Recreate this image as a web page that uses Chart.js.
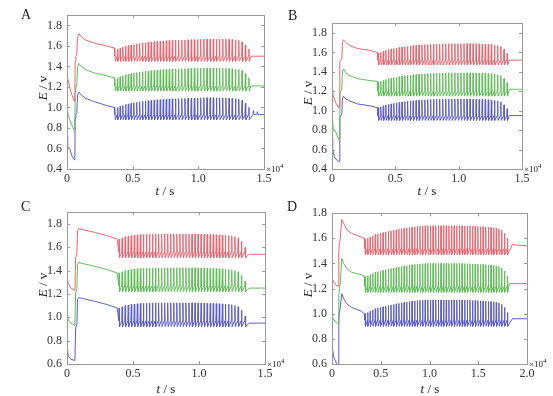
<!DOCTYPE html>
<html>
<head>
<meta charset="utf-8">
<script src="https://cdn.jsdelivr.net/npm/chart.js@4.4.1/dist/chart.umd.min.js"></script>
<style>
  body { margin: 0; background: #fff; width: 553px; height: 396px; position: relative; overflow: hidden;
         font-family: "Liberation Serif", "DejaVu Serif", serif; color: #222; }
  canvas { position: absolute; }
  .txt { position: absolute; white-space: nowrap; line-height: 1; }
  .letter { font-size: 14px; }
  .ttl { font-size: 13px; }
  .ytl { transform: translate(-50%, -50%) rotate(-90deg); }
  .xtl { transform: translate(-50%, -50%); }
  .mul { font-size: 9px; }
  .mul sup { font-size: 7px; vertical-align: 4px; }
</style>
</head>
<body>
<canvas id="cA"></canvas>
<canvas id="cB"></canvas>
<canvas id="cC"></canvas>
<canvas id="cD"></canvas>
<script>
// --- data (t in units of 1e4 s, E in V) ---

// Panel A
const A_RED_HEAD = [[0,1.31],[0.01,1.26],[0.03,1.15],[0.055,1.06],[0.06,1.08],[0.062,1.45],[0.068,1.5],[0.075,1.52],[0.08,1.68],[0.09,1.72],[0.11,1.69],[0.14,1.66],[0.2,1.63],[0.3,1.6],[0.36,1.58]];
const A_GRN_HEAD = [[0,1.0],[0.01,0.92],[0.03,0.85],[0.055,0.78],[0.06,0.8],[0.062,1.15],[0.068,1.2],[0.075,1.22],[0.08,1.39],[0.09,1.43],[0.11,1.4],[0.14,1.37],[0.2,1.34],[0.3,1.31],[0.36,1.29]];
const A_BLU_HEAD = [[0,0.72],[0.005,0.62],[0.02,0.6],[0.04,0.52],[0.055,0.49],[0.06,0.5],[0.062,0.9],[0.068,0.93],[0.075,0.95],[0.08,1.12],[0.09,1.15],[0.11,1.12],[0.14,1.09],[0.2,1.06],[0.3,1.02],[0.36,1.0]];
const A_SPIKE_T = [0.365,0.385,0.405,0.425,0.446,0.467,0.488,0.509,0.531,0.553,0.575,0.597,0.619,0.641,0.664,0.687,0.71,0.733,0.756,0.779,0.802,0.826,0.85,0.874,0.898,0.922,0.946,0.97,0.994,1.018,1.042,1.066,1.09,1.114,1.138,1.162,1.186,1.21,1.234,1.258,1.283,1.308,1.333,1.358,1.385];
const A_RED_PK = [1.56,1.57,1.58,1.59,1.60,1.605,1.61,1.615,1.62,1.625,1.63,1.633,1.636,1.639,1.642,1.645,1.647,1.649,1.651,1.653,1.655,1.656,1.657,1.658,1.659,1.66,1.661,1.662,1.663,1.664,1.665,1.666,1.667,1.667,1.667,1.667,1.666,1.665,1.664,1.662,1.66,1.655,1.64,1.61,1.57];
const A_GRN_PK = [1.28,1.29,1.30,1.31,1.32,1.325,1.33,1.335,1.34,1.345,1.35,1.353,1.356,1.359,1.362,1.365,1.367,1.369,1.371,1.373,1.375,1.376,1.377,1.378,1.379,1.38,1.381,1.382,1.383,1.384,1.385,1.385,1.385,1.385,1.385,1.384,1.383,1.382,1.38,1.378,1.375,1.37,1.36,1.33,1.29];
const A_BLU_PK = [0.99,1.0,1.01,1.02,1.03,1.035,1.04,1.045,1.05,1.055,1.06,1.063,1.066,1.069,1.072,1.075,1.077,1.079,1.081,1.083,1.085,1.086,1.087,1.088,1.089,1.09,1.091,1.092,1.093,1.094,1.095,1.095,1.095,1.095,1.095,1.094,1.093,1.092,1.09,1.088,1.085,1.08,1.07,1.04,1.0];
const A_LO  = [1.45, 1.16, 0.88];   // trough: red, green, blue
const A_PRE = [1.50, 1.21, 0.93];   // level just before each spike
const A_RED_TAIL = [[1.40,1.5],[1.5,1.5]];
const A_GRN_TAIL = [[1.40,1.21],[1.5,1.21]];
const A_BLU_TAIL = [[1.415,0.93],[1.42,0.97],[1.425,0.93],[1.445,0.93],[1.45,0.96],[1.455,0.93],[1.5,0.93]];

// Panel B
const B_RED_HEAD = [[0,1.25],[0.01,1.15],[0.03,1.08],[0.055,1.03],[0.06,1.05],[0.062,1.5],[0.07,1.52],[0.078,1.53],[0.082,1.7],[0.09,1.73],[0.11,1.7],[0.14,1.67],[0.2,1.64],[0.3,1.62],[0.36,1.6]];
const B_GRN_HEAD = [[0,0.98],[0.01,0.82],[0.03,0.78],[0.055,0.7],[0.06,0.72],[0.062,1.18],[0.07,1.2],[0.078,1.22],[0.082,1.4],[0.09,1.43],[0.11,1.39],[0.14,1.36],[0.2,1.33],[0.3,1.31],[0.36,1.3]];
const B_BLU_HEAD = [[0,0.72],[0.005,0.6],[0.02,0.52],[0.04,0.49],[0.055,0.47],[0.06,0.48],[0.062,0.93],[0.07,0.95],[0.078,0.97],[0.082,1.12],[0.09,1.15],[0.11,1.12],[0.14,1.1],[0.2,1.07],[0.3,1.05],[0.36,1.03]];
const B_SPIKE_T = [0.365,0.385,0.405,0.425,0.446,0.467,0.488,0.509,0.531,0.553,0.575,0.597,0.619,0.641,0.664,0.687,0.71,0.733,0.756,0.779,0.802,0.826,0.85,0.874,0.898,0.922,0.946,0.97,0.994,1.018,1.042,1.066,1.09,1.114,1.138,1.162,1.186,1.21,1.234,1.258,1.283,1.308,1.333,1.358,1.383];
const B_RED_PK = [1.59,1.6,1.61,1.62,1.63,1.635,1.64,1.645,1.65,1.655,1.66,1.663,1.666,1.669,1.672,1.675,1.677,1.679,1.681,1.683,1.685,1.686,1.687,1.688,1.689,1.69,1.69,1.69,1.69,1.69,1.69,1.69,1.69,1.689,1.688,1.687,1.686,1.685,1.683,1.68,1.675,1.67,1.66,1.63,1.59];
const B_GRN_PK = [1.29,1.3,1.31,1.32,1.33,1.335,1.34,1.345,1.35,1.355,1.36,1.363,1.366,1.369,1.372,1.375,1.377,1.379,1.381,1.383,1.385,1.386,1.387,1.388,1.389,1.39,1.39,1.39,1.39,1.39,1.39,1.39,1.39,1.389,1.388,1.387,1.386,1.385,1.383,1.38,1.375,1.37,1.36,1.33,1.29];
const B_BLU_PK = [1.03,1.04,1.05,1.06,1.065,1.07,1.075,1.08,1.085,1.09,1.093,1.096,1.099,1.102,1.105,1.107,1.109,1.111,1.113,1.115,1.116,1.117,1.118,1.119,1.12,1.12,1.12,1.12,1.12,1.12,1.12,1.12,1.12,1.119,1.118,1.117,1.116,1.115,1.113,1.11,1.105,1.1,1.09,1.06,1.02];
const B_LO  = [1.47, 1.15, 0.90];
const B_PRE = [1.52, 1.20, 0.95];
const B_RED_TAIL = [[1.40,1.52],[1.5,1.52]];
const B_GRN_TAIL = [[1.40,1.22],[1.5,1.22]];
const B_BLU_TAIL = [[1.40,0.95],[1.5,0.95]];

// Panel C
const C_RED_HEAD = [[0,1.35],[0.01,1.29],[0.03,1.25],[0.06,1.23],[0.065,1.5],[0.07,1.53],[0.075,1.55],[0.08,1.74],[0.09,1.76],[0.12,1.75],[0.2,1.73],[0.3,1.7],[0.38,1.67]];
const C_GRN_HEAD = [[0,1.05],[0.01,0.98],[0.03,0.95],[0.06,0.93],[0.065,1.2],[0.07,1.23],[0.075,1.25],[0.08,1.45],[0.09,1.47],[0.12,1.46],[0.2,1.44],[0.3,1.41],[0.38,1.38]];
const C_BLU_HEAD = [[0,0.76],[0.01,0.67],[0.03,0.64],[0.06,0.63],[0.065,0.9],[0.07,0.93],[0.075,0.95],[0.08,1.15],[0.09,1.17],[0.12,1.16],[0.2,1.14],[0.3,1.11],[0.38,1.08]];
const C_SPIKE_T = [0.395,0.418,0.441,0.464,0.487,0.51,0.533,0.556,0.579,0.602,0.625,0.648,0.671,0.694,0.717,0.74,0.763,0.786,0.809,0.832,0.855,0.878,0.901,0.924,0.947,0.97,0.993,1.016,1.039,1.062,1.085,1.108,1.131,1.154,1.177,1.2,1.224,1.248,1.272,1.297,1.322,1.35];
const C_RED_PK = [1.67,1.68,1.69,1.695,1.70,1.703,1.706,1.708,1.71,1.711,1.712,1.713,1.714,1.714,1.714,1.714,1.714,1.714,1.714,1.714,1.714,1.714,1.714,1.714,1.714,1.714,1.713,1.712,1.711,1.71,1.709,1.708,1.707,1.706,1.705,1.703,1.7,1.697,1.69,1.68,1.65,1.6];
const C_GRN_PK = [1.38,1.39,1.40,1.405,1.41,1.413,1.416,1.418,1.42,1.421,1.422,1.423,1.424,1.424,1.424,1.424,1.424,1.424,1.424,1.424,1.424,1.424,1.424,1.424,1.424,1.424,1.423,1.422,1.421,1.42,1.419,1.418,1.417,1.416,1.415,1.413,1.41,1.407,1.4,1.39,1.36,1.31];
const C_BLU_PK = [1.08,1.09,1.10,1.105,1.11,1.113,1.116,1.118,1.12,1.121,1.122,1.123,1.124,1.124,1.124,1.124,1.124,1.124,1.124,1.124,1.124,1.124,1.124,1.124,1.124,1.124,1.123,1.122,1.121,1.12,1.119,1.118,1.117,1.116,1.115,1.113,1.11,1.107,1.1,1.09,1.06,1.01];
const C_LO  = [1.51, 1.22, 0.92];
const C_PRE = [1.56, 1.27, 0.97];
const C_RED_TAIL = [[1.38,1.54],[1.5,1.54]];
const C_GRN_TAIL = [[1.38,1.25],[1.5,1.25]];
const C_BLU_TAIL = [[1.38,0.95],[1.5,0.95]];

// Panel D
const D_RED_HEAD = [[0,1.28],[0.02,1.25],[0.05,1.22],[0.065,1.22],[0.07,1.5],[0.075,1.55],[0.085,1.6],[0.1,1.75],[0.12,1.72],[0.15,1.67],[0.2,1.64],[0.3,1.61],[0.33,1.6]];
const D_GRN_HEAD = [[0,0.98],[0.02,0.95],[0.05,0.93],[0.065,0.92],[0.07,1.15],[0.075,1.2],[0.085,1.25],[0.1,1.44],[0.12,1.4],[0.15,1.36],[0.2,1.33],[0.3,1.31],[0.33,1.3]];
const D_BLU_HEAD = [[0,0.74],[0.02,0.65],[0.05,0.6],[0.065,0.59],[0.07,0.95],[0.075,1.0],[0.085,1.05],[0.1,1.16],[0.12,1.12],[0.15,1.08],[0.2,1.05],[0.3,1.02],[0.33,1.0]];
const D_SPIKE_T = [0.34,0.366,0.392,0.418,0.444,0.47,0.497,0.524,0.551,0.578,0.605,0.632,0.659,0.686,0.713,0.74,0.767,0.794,0.821,0.848,0.875,0.902,0.929,0.956,0.983,1.01,1.037,1.064,1.091,1.118,1.145,1.172,1.199,1.226,1.253,1.28,1.307,1.334,1.361,1.388,1.415,1.442,1.469,1.496,1.523,1.55,1.577,1.604,1.631,1.658,1.685,1.712,1.74,1.77,1.80];
const D_RED_PK = [1.59,1.6,1.61,1.62,1.63,1.635,1.64,1.645,1.65,1.655,1.66,1.664,1.668,1.672,1.676,1.68,1.683,1.686,1.689,1.692,1.694,1.696,1.698,1.7,1.7,1.7,1.7,1.7,1.7,1.7,1.7,1.7,1.7,1.7,1.7,1.7,1.7,1.7,1.699,1.698,1.697,1.696,1.695,1.694,1.693,1.692,1.69,1.688,1.686,1.684,1.68,1.675,1.665,1.64,1.6];
const D_GRN_PK = [1.29,1.3,1.31,1.32,1.33,1.335,1.34,1.345,1.35,1.355,1.36,1.364,1.368,1.372,1.376,1.38,1.383,1.386,1.389,1.392,1.394,1.396,1.398,1.4,1.4,1.4,1.4,1.4,1.4,1.4,1.4,1.4,1.4,1.4,1.4,1.4,1.4,1.4,1.399,1.398,1.397,1.396,1.395,1.394,1.393,1.392,1.39,1.388,1.386,1.384,1.38,1.375,1.365,1.34,1.3];
const D_BLU_PK = [1.0,1.01,1.02,1.03,1.04,1.045,1.05,1.055,1.06,1.065,1.07,1.074,1.078,1.082,1.086,1.09,1.093,1.096,1.099,1.102,1.104,1.106,1.108,1.11,1.11,1.11,1.11,1.11,1.11,1.11,1.11,1.11,1.11,1.11,1.11,1.11,1.11,1.11,1.109,1.108,1.107,1.106,1.105,1.104,1.103,1.102,1.1,1.098,1.096,1.094,1.09,1.085,1.075,1.05,1.01];
const D_LO  = [1.47, 1.17, 0.90];
const D_PRE = [1.52, 1.22, 0.95];
const D_RED_TAIL = [[1.85,1.55],[2.0,1.54]];
const D_GRN_TAIL = [[1.82,1.24],[2.0,1.24]];
const D_BLU_TAIL = [[1.85,0.96],[2.0,0.96]];

// tick values
const X_TICKS_15 = [0, 0.5, 1.0, 1.5];
const X_TICKS_20 = [0, 0.5, 1.0, 1.5, 2.0];
const Y_TICKS_04 = [0.4, 0.6, 0.8, 1.0, 1.2, 1.4, 1.6, 1.8];
const Y_TICKS_06 = [0.6, 0.8, 1.0, 1.2, 1.4, 1.6, 1.8];

// --- style ---
const COL_RED = '#ec6670';
const COL_GRN = '#62bd5a';
const COL_BLU = '#5c5ec9';
const SPIKE_HW = 0.003;   // half width of a spike, x units
const FONT = '"Liberation Serif", serif';

function buildSeries(head, times, peaks, lo, pre, tail) {
    const pts = head.map(p => ({ x: p[0], y: p[1] }));
    times.forEach((t, i) => {
        pts.push({ x: t - SPIKE_HW, y: pre });
        pts.push({ x: t, y: peaks[i] });
        pts.push({ x: t + SPIKE_HW, y: lo });
    });
    tail.forEach(p => pts.push({ x: p[0], y: p[1] }));
    return pts;
}

// frame + inward ticks on all four sides
const framePlugin = {
    id: 'frame',
    afterDatasetsDraw(chart) {
        const { ctx, chartArea: a, scales: { x, y } } = chart;
        ctx.save();
        ctx.strokeStyle = '#9a9a9a';
        ctx.lineWidth = 1;
        ctx.strokeRect(Math.round(a.left) + 0.5, Math.round(a.top) + 0.5,
                       Math.round(a.right - a.left), Math.round(a.bottom - a.top));
        ctx.beginPath();
        x.ticks.forEach(t => {
            const px = Math.round(x.getPixelForValue(t.value)) + 0.5;
            ctx.moveTo(px, a.bottom); ctx.lineTo(px, a.bottom - 3);
            ctx.moveTo(px, a.top); ctx.lineTo(px, a.top + 3);
        });
        y.ticks.forEach(t => {
            const py = Math.round(y.getPixelForValue(t.value)) + 0.5;
            ctx.moveTo(a.left, py); ctx.lineTo(a.left + 3, py);
            ctx.moveTo(a.right, py); ctx.lineTo(a.right - 3, py);
        });
        ctx.stroke();
        ctx.restore();
    }
};

const YW = 45, XH = 25, PT = 5, PR = 12;

function makePanel(id, box, yMin, yMax, yTicks, xMax, xTicks, series) {
    const can = document.getElementById(id);
    const w = box.r - box.l, h = box.b - box.t;
    can.width = w + YW + PR; can.height = h + PT + XH;
    can.style.left = (box.l - YW) + 'px';
    can.style.top = (box.t - PT) + 'px';
    can.style.width = can.width + 'px';
    can.style.height = can.height + 'px';

    return new Chart(can, {
        type: 'line',
        data: {
            datasets: series.map(s => ({
                data: s.data, borderColor: s.color, borderWidth: 1,
                pointRadius: 0, tension: 0, fill: false
            }))
        },
        options: {
            responsive: false, animation: false, devicePixelRatio: 1,
            layout: { padding: { left: 0, top: PT, right: PR, bottom: 0 } },
            plugins: { legend: { display: false }, tooltip: { enabled: false } },
            scales: {
                x: {
                    type: 'linear', min: 0, max: xMax,
                    afterFit: sc => { sc.height = XH; },
                    afterBuildTicks: sc => { sc.ticks = xTicks.map(v => ({ value: v })); },
                    grid: { display: false, drawTicks: false }, border: { display: false },
                    ticks: { padding: 3, color: '#333', font: { family: FONT, size: 12 },
                             maxRotation: 0, callback: v => v === 0 ? '0' : v.toFixed(1) }
                },
                y: {
                    type: 'linear', min: yMin, max: yMax,
                    afterFit: sc => { sc.width = YW; },
                    afterBuildTicks: sc => { sc.ticks = yTicks.map(v => ({ value: v })); },
                    grid: { display: false, drawTicks: false }, border: { display: false },
                    ticks: { padding: 5, color: '#333', font: { family: FONT, size: 12 },
                             callback: v => v.toFixed(1) }
                }
            }
        },
        plugins: [framePlugin]
    });
}

makePanel('cA', { l: 67, t: 8, r: 264, b: 169 }, 0.4, 1.9, Y_TICKS_04, 1.5, X_TICKS_15, [
    { color: COL_RED, data: buildSeries(A_RED_HEAD, A_SPIKE_T, A_RED_PK, A_LO[0], A_PRE[0], A_RED_TAIL) },
    { color: COL_GRN, data: buildSeries(A_GRN_HEAD, A_SPIKE_T, A_GRN_PK, A_LO[1], A_PRE[1], A_GRN_TAIL) },
    { color: COL_BLU, data: buildSeries(A_BLU_HEAD, A_SPIKE_T, A_BLU_PK, A_LO[2], A_PRE[2], A_BLU_TAIL) }
]);
makePanel('cB', { l: 332, t: 16, r: 522, b: 169 }, 0.4, 1.9, Y_TICKS_04, 1.5, X_TICKS_15, [
    { color: COL_RED, data: buildSeries(B_RED_HEAD, B_SPIKE_T, B_RED_PK, B_LO[0], B_PRE[0], B_RED_TAIL) },
    { color: COL_GRN, data: buildSeries(B_GRN_HEAD, B_SPIKE_T, B_GRN_PK, B_LO[1], B_PRE[1], B_GRN_TAIL) },
    { color: COL_BLU, data: buildSeries(B_BLU_HEAD, B_SPIKE_T, B_BLU_PK, B_LO[2], B_PRE[2], B_BLU_TAIL) }
]);
makePanel('cC', { l: 67, t: 205, r: 265, b: 364 }, 0.6, 1.9, Y_TICKS_06, 1.5, X_TICKS_15, [
    { color: COL_RED, data: buildSeries(C_RED_HEAD, C_SPIKE_T, C_RED_PK, C_LO[0], C_PRE[0], C_RED_TAIL) },
    { color: COL_GRN, data: buildSeries(C_GRN_HEAD, C_SPIKE_T, C_GRN_PK, C_LO[1], C_PRE[1], C_GRN_TAIL) },
    { color: COL_BLU, data: buildSeries(C_BLU_HEAD, C_SPIKE_T, C_BLU_PK, C_LO[2], C_PRE[2], C_BLU_TAIL) }
]);
makePanel('cD', { l: 332, t: 206, r: 527, b: 364 }, 0.6, 1.8, Y_TICKS_06, 2.0, X_TICKS_20, [
    { color: COL_RED, data: buildSeries(D_RED_HEAD, D_SPIKE_T, D_RED_PK, D_LO[0], D_PRE[0], D_RED_TAIL) },
    { color: COL_GRN, data: buildSeries(D_GRN_HEAD, D_SPIKE_T, D_GRN_PK, D_LO[1], D_PRE[1], D_GRN_TAIL) },
    { color: COL_BLU, data: buildSeries(D_BLU_HEAD, D_SPIKE_T, D_BLU_PK, D_LO[2], D_PRE[2], D_BLU_TAIL) }
]);

// --- text: panel letters, axis titles, exponent ---
function addText(html, cls, x, y) {
    const d = document.createElement('div');
    d.className = 'txt ' + cls;
    d.innerHTML = html;
    d.style.left = x + 'px';
    d.style.top = y + 'px';
    document.body.appendChild(d);
}
[['A', 21, 8], ['B', 288, 9], ['C', 21, 200], ['D', 287, 200]].forEach(l => addText(l[0], 'letter', l[1], l[2]));
[[42, 88], [307, 93], [42, 285], [307, 285]].forEach(p => addText('<i>E</i> / v', 'ttl ytl', p[0], p[1]));
[[165, 190], [427, 190], [166, 388], [430, 388]].forEach(p => addText('<i>t</i> / s', 'ttl xtl', p[0], p[1]));
[[266, 163], [524, 163], [267, 358], [529, 358]].forEach(p => addText('×10<sup>4</sup>', 'mul', p[0], p[1]));
</script>
</body>
</html>
